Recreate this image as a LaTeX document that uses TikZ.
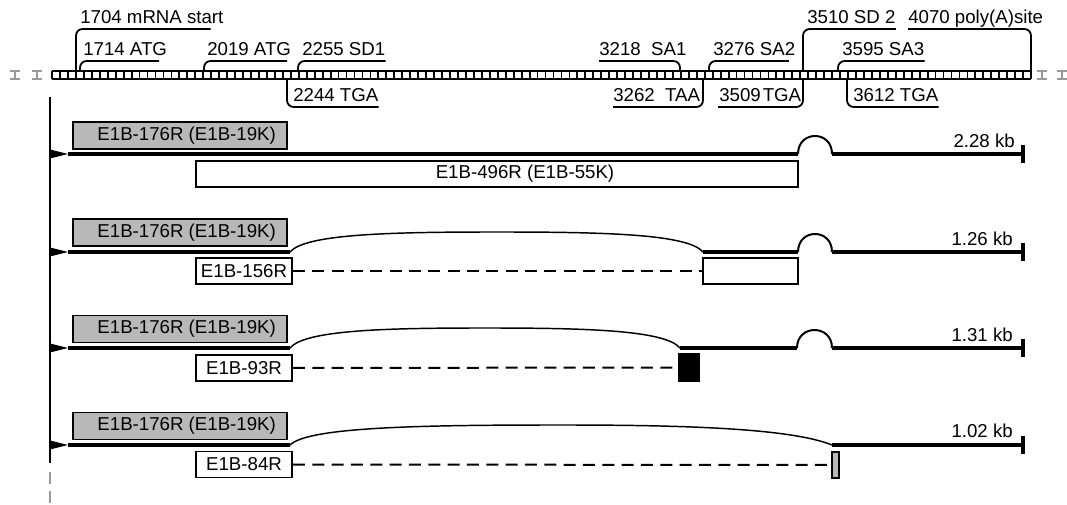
\documentclass[tikz,border=0pt]{standalone}
\usepackage{fontspec}
\setmainfont{Liberation Sans}
\usetikzlibrary{arrows.meta}
\definecolor{boxgray}{gray}{0.72}
\definecolor{markgray}{gray}{0.6}
\newcommand{\lblfont}{\fontsize{14}{16}\selectfont}
\tikzset{
  lbl/.style={inner sep=0pt, anchor=base west, font=\lblfont},
  kb/.style={inner sep=0pt, anchor=base east, font=\lblfont},
  brk/.style={line width=1.35pt, rounded corners=5pt},
  rna/.style={line width=3.3pt},
  splice/.style={line width=1.1pt},
  bump/.style={line width=1.5pt},
  polyend/.style={line width=2.6pt},
  dsh/.style={line width=1.5pt, dash pattern=on 9pt off 5.5pt},
  orfgray/.style={draw, line width=1.4pt, fill=boxgray, inner sep=0pt,
    minimum width=160.5pt, minimum height=20.25pt, font=\lblfont},
  orfwhite/.style={draw, line width=1.4pt, fill=white, inner sep=0pt,
    minimum width=72pt, minimum height=19.5pt, font=\lblfont}
}
\begin{document}
\begin{tikzpicture}[x=0.75pt,y=-0.75pt]
\useasboundingbox (0,0) rectangle (1067,505);
% genome ruler
\draw[line width=1.6pt] (52,71) -- (1031,71);
\draw[line width=1.6pt] (52,79) -- (1031,79);
\foreach \i in {0,...,123}
  \draw[line width=1.35pt] ({52+\i*7.96},71) -- ({52+\i*7.96},79);
\foreach \x in {15,37,1042,1062}
  \draw[markgray, line width=1.5pt] (\x-5,71) -- (\x+5,71) (\x,71) -- (\x,79) (\x-5,79) -- (\x+5,79);
% sites
\coordinate (s1704) at (76,71);
\coordinate (s1714) at (80,71);
\coordinate (s2019) at (204,71);
\coordinate (s2255) at (298,71);
\coordinate (s3218) at (680,71);
\coordinate (s3276) at (709,71);
\coordinate (s3510) at (803,71);
\coordinate (s3595) at (838,71);
\coordinate (s4070) at (1031,71);
\coordinate (s2244) at (287,79);
\coordinate (s3262) at (703,79);
\coordinate (s3509) at (803,79);
\coordinate (s3612) at (847,79);
% site labels
\node[lbl] (t1704) at (80,24) {1704 mRNA start};
\node[lbl] (t1714) at (83,56) {1714 ATG};
\node[lbl] (t2019) at (207,56) {2019 ATG};
\node[lbl] (t2255) at (302,56) {2255 SD1};
\node[lbl] (t3218) at (599,56) {3218\ \ SA1};
\node[lbl] (t3276) at (713,56) {3276 SA2};
\node[lbl] (t3510) at (807,24) {3510 SD 2};
\node[lbl] (t3595) at (842,56) {3595 SA3};
\node[lbl] (t4070) at (908,24) {4070 poly(A)site};
\node[lbl] (t2244) at (293,102) {2244 TGA};
\node[lbl] (t3262) at (613,102) {3262\ \ TAA};
\node[lbl] (t3509) at (719,102) {3509\hspace{1.5pt}TGA};
\node[lbl] (t3612) at (853,102) {3612 TGA};
\draw[brk] (s1704) |- ([xshift=-9.75pt,yshift=-3.75pt]t1704.base east);
\draw[brk] (s1714) |- ([xshift=-6pt,yshift=-3.75pt]t1714.base east);
\draw[brk] (s2019) |- ([xshift=-3pt,yshift=-3.75pt]t2019.base east);
\draw[brk] (s2255) |- ([yshift=-3.75pt]t2255.base east);
\draw[brk] ([yshift=-3.75pt]t3218.base west) -| (s3218);
\draw[brk] (s3276) |- ([xshift=-5pt,yshift=-3.75pt]t3276.base east);
\draw[brk] (s3510) |- ([yshift=-3.75pt]t3510.base east);
\draw[brk] (s3595) |- ([yshift=-3.75pt]t3595.base east);
\draw[brk] ([yshift=-3.75pt]t4070.base west) -| (s4070);
\draw[brk] (s2244) |- ([yshift=-3.75pt]t2244.base east);
\draw[brk] ([yshift=-3.75pt]t3262.base west) -| (s3262);
\draw[brk] ([xshift=-0.75pt,yshift=-3.75pt]t3509.base west) -| (s3509);
\draw[brk] (s3612) |- ([yshift=-3.75pt]t3612.base east);
% promoter axis
\coordinate (axtop) at (50,97);
\coordinate (axbot) at (50,463);
\coordinate (axend) at (50,505);
\draw[line width=1.5pt] (axtop) -- (axbot);
\draw[markgray, line width=1.5pt, dash pattern=on 9pt off 5pt] ([yshift=-6.75pt]axbot) -- (axend);
% 2.28 kb
\coordinate (r1a) at (68,154);
\coordinate (r1z) at (1023,154);
\fill (50,149.5) -- (r1a) -- (50,158.5) -- cycle;
\node[orfgray] (g1) at (180,135.5) {\hspace{10pt}E1B-176R (E1B-19K)};
\draw[rna] (r1a) -- (798,154);
\draw[bump] (798,154) .. controls (798,130) and (832,130) .. (832,154);
\draw[rna] (832,154) -- (r1z);
\draw[polyend] (1023,145) -- (1023,163);
\node[kb] (k1) at (1015,147.5) {2.28 kb};
\node[orfwhite, minimum width=451.5pt] (w1) at (497,174) {\hspace{42pt}E1B-496R (E1B-55K)};
% 1.26 kb
\coordinate (r2a) at (68,252);
\coordinate (r2z) at (1023,252);
\fill (50,247.5) -- (r2a) -- (50,256.5) -- cycle;
\node[orfgray] (g2) at (180,232.5) {\hspace{10pt}E1B-176R (E1B-19K)};
\draw[rna] (r2a) -- (290,252);
\draw[splice] (290,252) .. controls (305,234) and (390,232) .. (497,232) .. controls (604,232) and (688,234) .. (703,252);
\draw[rna] (703,252) -- (798,252);
\draw[bump] (798,252) .. controls (798,228) and (832,228) .. (832,252);
\draw[rna] (832,252) -- (r2z);
\draw[polyend] (1023,243) -- (1023,261);
\node[kb] (k2) at (1013,246) {1.26 kb};
\node[orfwhite] (b156) at (244,271) {E1B-156R};
\node[orfwhite, minimum width=71.25pt] (x156) at (750.5,271) {};
\draw[dsh] (b156.east) -- (x156.west);
% 1.31 kb
\coordinate (r3a) at (68,348);
\coordinate (r3z) at (1023,348);
\fill (50,343.5) -- (r3a) -- (50,352.5) -- cycle;
\node[orfgray] (g3) at (180,329) {\hspace{10pt}E1B-176R (E1B-19K)};
\draw[rna] (r3a) -- (290,348);
\draw[splice] (290,348) .. controls (305,330) and (385,328) .. (485,328) .. controls (585,328) and (665,330) .. (680,348);
\draw[rna] (680,348) -- (797,348);
\draw[bump] (797,348) .. controls (797,324) and (832,324) .. (832,348);
\draw[rna] (832,348) -- (r3z);
\draw[polyend] (1023,339) -- (1023,357);
\node[kb] (k3) at (1013,342) {1.31 kb};
\node[orfwhite] (b93) at (244,368) {E1B-93R};
\node[draw, line width=1.4pt, fill=black, inner sep=0pt, minimum width=15pt, minimum height=20.25pt] (x93) at (689,367.5) {};
\draw[dsh] (b93.east) -- (x93.west);
% 1.02 kb
\coordinate (r4a) at (68,445);
\coordinate (r4z) at (1023,445);
\fill (50,440.5) -- (r4a) -- (50,449.5) -- cycle;
\node[orfgray] (g4) at (180,426) {\hspace{10pt}E1B-176R (E1B-19K)};
\draw[rna] (r4a) -- (290,445);
\draw[splice] (290,445) .. controls (308,427) and (420,425) .. (561,425) .. controls (680,425) and (790,428) .. (832,445);
\draw[rna] (832,445) -- (r4z);
\draw[polyend] (1023,436) -- (1023,454);
\node[kb] (k4) at (1013,438) {1.02 kb};
\node[orfwhite] (b84) at (244,464.5) {E1B-84R};
\node[draw, line width=1.4pt, fill=boxgray, inner sep=0pt, minimum width=5.25pt, minimum height=19.5pt] (x84) at (835.5,465) {};
\draw[dsh] (b84.east) -- (x84.west);
\end{tikzpicture}
\end{document}
